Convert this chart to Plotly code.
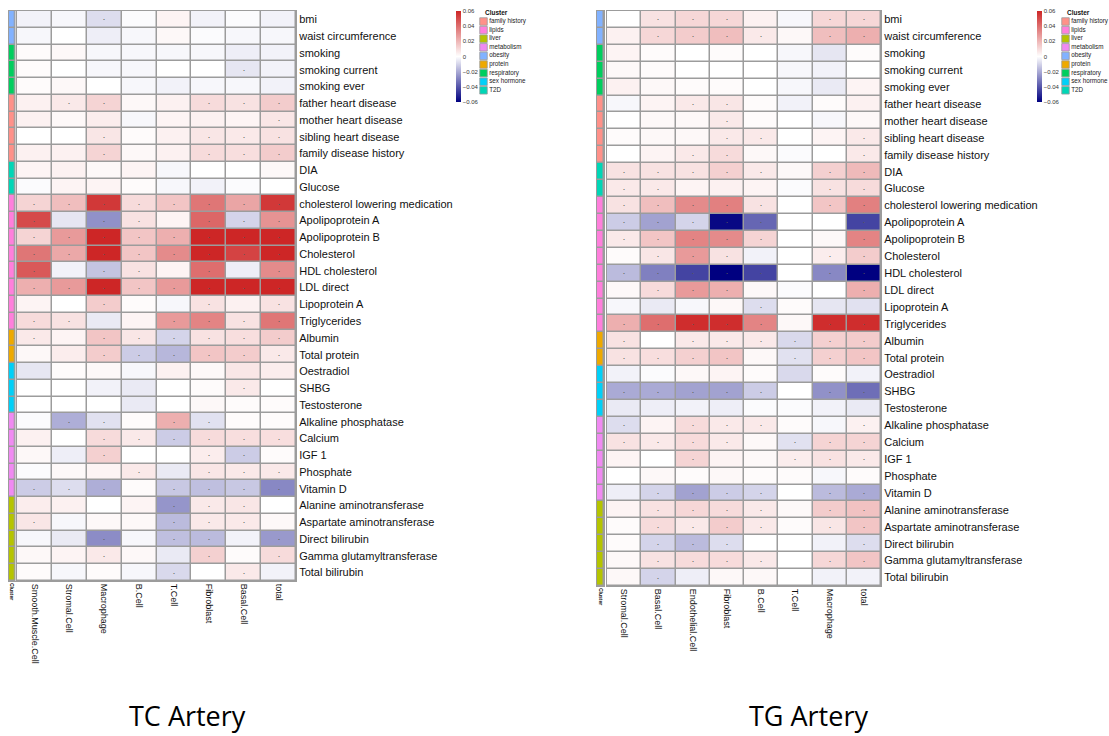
import plotly.graph_objects as go

W, H = 1109, 736

# ---------------------------------------------------------------- data
traits = [
    "bmi", "waist circumference", "smoking", "smoking current", "smoking ever",
    "father heart disease", "mother heart disease", "sibling heart disease",
    "family disease history", "DIA", "Glucose", "cholesterol lowering medication",
    "Apolipoprotein A", "Apolipoprotein B", "Cholesterol", "HDL cholesterol",
    "LDL direct", "Lipoprotein A", "Triglycerides", "Albumin", "Total protein",
    "Oestradiol", "SHBG", "Testosterone", "Alkaline phosphatase", "Calcium",
    "IGF 1", "Phosphate", "Vitamin D", "Alanine aminotransferase",
    "Aspartate aminotransferase", "Direct bilirubin", "Gamma glutamyltransferase",
    "Total bilirubin",
]

trait_cluster = [
    "obesity", "obesity", "respiratory", "respiratory", "respiratory",
    "family history", "family history", "family history", "family history",
    "T2D", "T2D",
    "lipids", "lipids", "lipids", "lipids", "lipids", "lipids", "lipids", "lipids",
    "protein", "protein",
    "sex hormone", "sex hormone", "sex hormone",
    "metabolism", "metabolism", "metabolism", "metabolism", "metabolism",
    "liver", "liver", "liver", "liver", "liver",
]

cluster_names = ["family history", "lipids", "liver", "metabolism", "obesity",
                 "protein", "respiratory", "sex hormone", "T2D"]
cluster_colors = ["#FF9189", "#FF7FDC", "#B5C400", "#F08AF2", "#82B2FF",
                  "#EEA900", "#00CE5E", "#00D0F8", "#00D6B6"]

tc_cells = ["Smooth.Muscle.Cell", "Stromal.Cell", "Macrophage", "B.Cell",
            "T.Cell", "Fibroblast", "Basal.Cell", "total"]

tc_values = [
    [-0.003, -0.002, -0.008, -0.001, 0.003, -0.003, -0.001, -0.003],
    [-0.002, 0.000, -0.004, -0.002, 0.002, -0.001, -0.002, -0.002],
    [0.001, 0.002, -0.002, -0.002, -0.002, -0.002, -0.004, -0.003],
    [0.001, 0.000, -0.002, -0.002, 0.000, 0.000, -0.006, -0.003],
    [0.001, 0.002, 0.000, -0.002, -0.003, -0.002, -0.002, -0.003],
    [0.004, 0.006, 0.012, 0.002, 0.004, 0.010, 0.008, 0.014],
    [0.004, 0.002, 0.005, -0.002, 0.003, 0.004, 0.003, 0.007],
    [0.000, 0.000, 0.007, 0.001, 0.004, 0.007, 0.006, 0.008],
    [0.004, 0.004, 0.012, 0.002, 0.004, 0.010, 0.009, 0.014],
    [0.003, 0.004, 0.002, 0.003, -0.002, 0.000, 0.000, 0.002],
    [-0.001, 0.003, 0.003, 0.001, -0.002, -0.003, -0.001, 0.000],
    [0.012, 0.018, 0.055, 0.010, 0.016, 0.038, 0.025, 0.055],
    [0.050, -0.006, -0.026, 0.008, 0.003, 0.042, -0.010, 0.030],
    [0.012, 0.028, 0.060, 0.016, 0.022, 0.060, 0.060, 0.060],
    [0.038, 0.024, 0.060, 0.016, 0.032, 0.060, 0.052, 0.060],
    [0.046, -0.003, -0.014, 0.008, 0.003, 0.040, -0.004, 0.032],
    [0.022, 0.028, 0.060, 0.016, 0.028, 0.060, 0.060, 0.060],
    [0.003, 0.000, 0.014, 0.001, -0.002, 0.008, 0.004, 0.008],
    [0.010, 0.008, -0.005, 0.003, 0.028, 0.034, 0.008, 0.038],
    [0.006, 0.003, 0.016, 0.007, -0.010, 0.008, 0.009, 0.014],
    [0.002, 0.005, 0.014, -0.012, -0.017, 0.016, 0.014, 0.006],
    [-0.006, 0.001, 0.002, -0.002, 0.004, 0.002, 0.007, 0.005],
    [0.000, 0.000, -0.003, -0.005, 0.000, 0.001, 0.006, 0.000],
    [0.000, 0.000, 0.000, -0.005, 0.000, 0.002, 0.001, 0.001],
    [-0.001, -0.019, -0.007, 0.001, 0.022, -0.007, 0.001, 0.001],
    [0.004, 0.000, 0.010, 0.006, -0.012, 0.010, 0.009, 0.009],
    [0.002, -0.004, 0.013, 0.000, 0.000, 0.005, -0.012, 0.001],
    [-0.001, 0.002, 0.003, 0.006, -0.005, 0.007, 0.006, 0.006],
    [-0.012, -0.008, -0.019, 0.001, -0.013, -0.015, -0.013, -0.028],
    [0.005, 0.004, 0.000, 0.003, -0.025, 0.006, 0.007, 0.000],
    [0.007, -0.002, 0.002, 0.002, -0.016, 0.006, 0.006, 0.002],
    [-0.002, -0.005, -0.027, -0.002, -0.015, -0.016, -0.003, -0.024],
    [0.002, 0.003, 0.006, 0.002, -0.005, 0.013, 0.001, 0.010],
    [0.001, -0.002, 0.001, -0.002, -0.009, 0.000, 0.006, -0.003],
]

tc_signif = [
    [0, 0, 1, 0, 0, 0, 0, 0],
    [0, 0, 0, 0, 0, 0, 0, 0],
    [0, 0, 0, 0, 0, 0, 0, 0],
    [0, 0, 0, 0, 0, 0, 1, 0],
    [0, 0, 0, 0, 0, 0, 0, 0],
    [0, 1, 1, 0, 0, 1, 1, 1],
    [0, 0, 0, 0, 0, 0, 0, 1],
    [0, 0, 1, 0, 0, 1, 1, 1],
    [0, 0, 1, 0, 0, 1, 1, 1],
    [0, 0, 0, 0, 0, 0, 0, 0],
    [0, 0, 0, 0, 0, 0, 0, 0],
    [1, 1, 1, 1, 1, 1, 1, 1],
    [1, 0, 1, 1, 0, 1, 1, 1],
    [1, 1, 1, 1, 1, 1, 1, 1],
    [1, 1, 1, 1, 1, 1, 1, 1],
    [1, 0, 1, 1, 0, 1, 0, 1],
    [1, 1, 1, 1, 1, 1, 1, 1],
    [0, 0, 1, 0, 0, 1, 0, 1],
    [1, 1, 0, 0, 1, 1, 1, 1],
    [1, 0, 1, 1, 1, 1, 1, 1],
    [0, 0, 1, 1, 1, 1, 1, 1],
    [0, 0, 0, 0, 0, 0, 0, 0],
    [0, 0, 0, 0, 0, 0, 1, 0],
    [0, 0, 0, 0, 0, 0, 0, 0],
    [0, 1, 1, 0, 1, 1, 0, 0],
    [0, 0, 1, 1, 1, 1, 1, 1],
    [0, 0, 1, 0, 0, 1, 1, 0],
    [0, 0, 0, 1, 0, 1, 1, 1],
    [1, 1, 1, 0, 1, 1, 1, 1],
    [0, 0, 0, 0, 1, 1, 1, 0],
    [1, 0, 0, 0, 1, 1, 1, 0],
    [0, 0, 1, 0, 1, 1, 0, 1],
    [0, 0, 1, 0, 0, 1, 0, 1],
    [0, 0, 0, 0, 1, 0, 1, 0],
]

tg_cells = ["Stromal.Cell", "Basal.Cell", "Endothelial.Cell", "Fibroblast",
            "B.Cell", "T.Cell", "Macrophage", "total"]

tg_values = [
    [0.000, 0.008, 0.011, 0.011, 0.004, -0.002, 0.011, 0.011],
    [0.004, 0.011, 0.014, 0.018, 0.006, 0.002, 0.018, 0.022],
    [0.003, 0.001, 0.000, 0.001, 0.000, -0.002, -0.006, 0.001],
    [0.002, 0.001, 0.000, 0.000, 0.000, -0.002, -0.003, 0.000],
    [0.004, 0.002, 0.001, 0.001, 0.000, -0.002, -0.005, 0.003],
    [-0.002, 0.003, 0.006, 0.007, 0.001, -0.003, 0.001, 0.004],
    [0.000, 0.002, 0.002, 0.006, 0.001, 0.000, -0.002, 0.002],
    [0.001, 0.002, 0.002, 0.006, 0.006, 0.000, 0.003, 0.006],
    [0.000, 0.003, 0.006, 0.010, 0.002, -0.001, 0.000, 0.006],
    [0.008, 0.008, 0.008, 0.013, 0.006, 0.002, 0.013, 0.019],
    [0.006, 0.006, 0.003, 0.004, 0.003, -0.001, 0.008, 0.010],
    [0.008, 0.018, 0.032, 0.035, 0.008, 0.000, 0.016, 0.035],
    [-0.012, -0.022, -0.010, -0.058, -0.036, 0.000, 0.000, -0.044],
    [0.006, 0.016, 0.034, 0.032, 0.012, 0.000, 0.002, 0.034],
    [0.001, 0.007, 0.028, 0.008, -0.003, 0.000, 0.005, 0.014],
    [-0.016, -0.030, -0.044, -0.060, -0.044, 0.000, -0.028, -0.060],
    [0.002, 0.010, 0.028, 0.022, 0.002, -0.001, 0.000, 0.022],
    [-0.002, -0.005, -0.002, 0.002, -0.008, 0.001, -0.006, -0.007],
    [0.022, 0.040, 0.058, 0.058, 0.034, 0.002, 0.058, 0.058],
    [0.008, 0.000, 0.006, 0.006, 0.006, -0.009, 0.013, 0.014],
    [0.008, 0.009, 0.013, 0.016, 0.002, -0.007, 0.013, 0.016],
    [-0.003, -0.001, 0.002, 0.003, 0.001, -0.009, 0.001, -0.003],
    [-0.020, -0.020, -0.022, -0.022, -0.012, 0.000, -0.026, -0.034],
    [-0.005, -0.004, -0.003, -0.004, -0.001, -0.001, -0.003, -0.005],
    [-0.008, 0.003, 0.010, 0.006, 0.006, 0.001, -0.002, 0.004],
    [0.008, 0.006, 0.010, 0.006, 0.002, -0.007, 0.012, 0.012],
    [0.003, 0.000, 0.012, 0.003, 0.002, 0.005, 0.008, 0.006],
    [0.000, 0.002, 0.001, 0.002, 0.001, 0.001, -0.002, 0.001],
    [-0.004, -0.010, -0.022, -0.012, -0.010, 0.000, -0.016, -0.020],
    [0.003, 0.008, 0.011, 0.010, 0.006, 0.002, 0.014, 0.017],
    [0.001, 0.010, 0.006, 0.014, 0.006, 0.001, 0.007, 0.016],
    [0.001, -0.010, -0.016, -0.008, 0.000, 0.000, -0.003, -0.008],
    [0.002, 0.008, 0.010, 0.010, 0.006, 0.000, 0.011, 0.016],
    [0.002, -0.010, -0.004, 0.002, 0.002, 0.000, -0.003, -0.003],
]

tg_signif = [
    [0, 1, 1, 1, 0, 0, 1, 1],
    [0, 1, 1, 1, 1, 0, 1, 1],
    [0, 0, 0, 0, 0, 0, 0, 0],
    [0, 0, 0, 0, 0, 0, 0, 0],
    [0, 0, 0, 0, 0, 0, 0, 0],
    [0, 0, 1, 1, 0, 0, 0, 0],
    [0, 0, 0, 1, 0, 0, 0, 0],
    [0, 0, 0, 1, 1, 0, 0, 1],
    [0, 0, 1, 1, 0, 0, 0, 1],
    [1, 1, 1, 1, 1, 0, 1, 1],
    [1, 1, 0, 0, 0, 0, 1, 1],
    [1, 1, 1, 1, 1, 0, 1, 1],
    [1, 1, 1, 1, 1, 0, 0, 1],
    [1, 1, 1, 1, 1, 0, 0, 1],
    [0, 1, 1, 1, 0, 0, 1, 1],
    [1, 1, 1, 1, 1, 0, 1, 1],
    [0, 1, 1, 1, 0, 0, 0, 1],
    [0, 0, 0, 0, 1, 0, 0, 0],
    [1, 1, 1, 1, 1, 0, 1, 1],
    [1, 0, 1, 1, 1, 1, 1, 1],
    [1, 1, 1, 1, 0, 1, 1, 1],
    [0, 0, 0, 0, 0, 0, 0, 0],
    [1, 1, 1, 1, 1, 0, 1, 1],
    [0, 0, 0, 0, 0, 0, 0, 0],
    [1, 0, 1, 1, 1, 0, 0, 1],
    [1, 1, 1, 1, 0, 1, 1, 1],
    [0, 0, 1, 0, 0, 1, 1, 1],
    [0, 0, 0, 0, 0, 0, 0, 0],
    [0, 1, 1, 1, 1, 0, 1, 1],
    [0, 1, 1, 1, 1, 0, 1, 1],
    [0, 1, 1, 1, 1, 0, 1, 1],
    [0, 1, 1, 1, 0, 0, 0, 1],
    [0, 1, 1, 1, 1, 0, 1, 1],
    [0, 1, 0, 0, 0, 0, 0, 0],
]

scale_ticks = [0.06, 0.04, 0.02, 0, -0.02, -0.04, -0.06]
scale_labels = ["0.06", "0.04", "0.02", "0", "\u22120.02", "\u22120.04", "\u22120.06"]
panel_titles = ["TC Artery", "TG Artery"]

# ---------------------------------------------------------------- styling
FONT = "Liberation Sans, Arial, Helvetica, sans-serif"
BORDER = "#9C9C9C"
COLORSCALE = [[0.0, "#000080"], [0.5, "#FFFFFF"], [1.0, "#CD2626"]]


def xdom(a, b):
    return [max(a, 0) / W, min(b, W) / W]


def ydom(top, bottom):
    return [1 - bottom / H, 1 - top / H]


# pixel geometry of the two panels
panels = [
    dict(cells=tc_cells, values=tc_values, signif=tc_signif,
         strip=(8.5, 15.5), grid=(17, 296), rows=(11, 581),
         cbar_x=455.7, legend_x=483.5, title_x=187),
    dict(cells=tg_cells, values=tg_values, signif=tg_signif,
         strip=(597, 604), grid=(607, 881), rows=(11, 586),
         cbar_x=1036.7, legend_x=1065.5, title_x=808),
]

n_clusters = len(cluster_names)
cluster_scale = []
for i, c in enumerate(cluster_colors):
    cluster_scale.append([i / n_clusters, c])
    cluster_scale.append([(i + 1) / n_clusters, c])
cluster_index = [cluster_names.index(c) for c in trait_cluster]

fig = go.Figure()
layout_axes = {}
shapes = []
annotations = []


def nm(k):
    return "" if k == 1 else str(k)


for p_i, p in enumerate(panels):
    base = p_i * 3
    ax_main, ax_strip, ax_leg = base + 1, base + 2, base + 3

    # main heatmap
    fig.add_trace(go.Heatmap(
        z=p["values"], x=p["cells"], y=traits,
        text=[["\u00b7" if s else "" for s in row] for row in p["signif"]],
        texttemplate="%{text}",
        textfont=dict(size=9, color="#5A5A5A", family=FONT),
        colorscale=COLORSCALE, zmin=-0.06, zmax=0.06,
        xgap=1.5, ygap=1.5, hoverinfo="skip",
        xaxis="x" + nm(ax_main), yaxis="y" + nm(ax_main),
        colorbar=dict(
            x=p["cbar_x"] / W, xanchor="left", xpad=0,
            y=1 - 11 / H, yanchor="top", ypad=0,
            len=91 / H, lenmode="fraction",
            thickness=5, thicknessmode="pixels",
            outlinewidth=0, ticks="",
            tickvals=scale_ticks, ticktext=scale_labels,
            tickfont=dict(size=6, color="#333333", family=FONT),
        ),
    ))

    # cluster annotation strip
    fig.add_trace(go.Heatmap(
        z=[[k] for k in cluster_index], x=["Cluster"], y=traits,
        colorscale=cluster_scale, zmin=-0.5, zmax=n_clusters - 0.5,
        showscale=False, xgap=1.5, ygap=1.5, hoverinfo="skip",
        xaxis="x" + nm(ax_strip), yaxis="y" + nm(ax_strip),
    ))

    # legend swatches
    fig.add_trace(go.Scatter(
        x=[0] * n_clusters, y=cluster_names,
        mode="markers+text", text=cluster_names, textposition="middle right",
        textfont=dict(size=6.3, color="#222222", family=FONT),
        marker=dict(symbol="square", size=7.5, color=cluster_colors,
                    line=dict(width=0.8, color="#9A9A9A")),
        hoverinfo="skip", showlegend=False, cliponaxis=False,
        xaxis="x" + nm(ax_leg), yaxis="y" + nm(ax_leg),
    ))

    gx0, gx1 = p["grid"]
    r0, r1 = p["rows"]
    sx0, sx1 = p["strip"]

    common_x = dict(showgrid=False, zeroline=False, ticks="", fixedrange=True,
                    showline=True, mirror=True, linecolor=BORDER, linewidth=1)
    common_y = dict(showgrid=False, zeroline=False, ticks="", fixedrange=True,
                    autorange="reversed", showline=True, mirror=True,
                    linecolor=BORDER, linewidth=1)

    layout_axes["xaxis" + nm(ax_main)] = dict(
        common_x, domain=xdom(gx0, gx1), anchor="y" + nm(ax_main),
        side="bottom", tickangle=90,
        tickfont=dict(size=9, color="#111111", family=FONT))
    layout_axes["yaxis" + nm(ax_main)] = dict(
        common_y, domain=ydom(r0, r1), anchor="x" + nm(ax_main),
        side="right", tickfont=dict(size=11, color="#111111", family=FONT))
    layout_axes["xaxis" + nm(ax_strip)] = dict(
        common_x, domain=xdom(sx0, sx1), anchor="y" + nm(ax_strip),
        side="bottom", tickangle=90, tickvals=["Cluster"],
        ticktext=["<b>Cluster</b>"],
        tickfont=dict(size=5, color="#111111", family=FONT))
    layout_axes["yaxis" + nm(ax_strip)] = dict(
        common_y, domain=ydom(r0, r1), anchor="x" + nm(ax_strip),
        showticklabels=False)

    # grey cell borders behind both heatmaps
    for ax in (ax_main, ax_strip):
        shapes.append(dict(type="rect", xref="x%s domain" % nm(ax),
                           yref="y%s domain" % nm(ax), x0=0, x1=1, y0=0, y1=1,
                           fillcolor=BORDER, line=dict(width=0), layer="below"))

    # legend axes: one category per 8.6 px, 1 x-unit per pixel
    lx = p["legend_x"]
    pitch = 8.6
    top = 21.5 - pitch / 2
    layout_axes["xaxis" + nm(ax_leg)] = dict(
        domain=xdom(lx - 4, lx + 36), range=[-4, 36], visible=False,
        fixedrange=True)
    layout_axes["yaxis" + nm(ax_leg)] = dict(
        domain=ydom(top, top + pitch * n_clusters),
        range=[n_clusters - 0.5, -0.5], visible=False, fixedrange=True,
        type="category", categoryorder="array", categoryarray=cluster_names)

    annotations.append(dict(
        text="<b>Cluster</b>", x=(lx - 0.5) / W, y=1 - 13 / H,
        xref="paper", yref="paper", xanchor="left", yanchor="middle",
        showarrow=False, font=dict(size=6.5, color="#111111", family=FONT)))

    annotations.append(dict(
        text=panel_titles[p_i], x=p["title_x"] / W, y=1 - 715 / H,
        xref="paper", yref="paper", xanchor="center", yanchor="middle",
        showarrow=False, font=dict(size=27, color="#000000",
                                   family="Open Sans, Lato, sans-serif")))

fig.update_layout(
    width=W, height=H, autosize=False,
    margin=dict(l=0, r=0, t=0, b=0, pad=0),
    paper_bgcolor="#FFFFFF", plot_bgcolor="rgba(0,0,0,0)",
    showlegend=False, font=dict(family=FONT),
    shapes=shapes, annotations=annotations,
    **layout_axes,
)

fig.write_html("out.html", config={"displayModeBar": False})
